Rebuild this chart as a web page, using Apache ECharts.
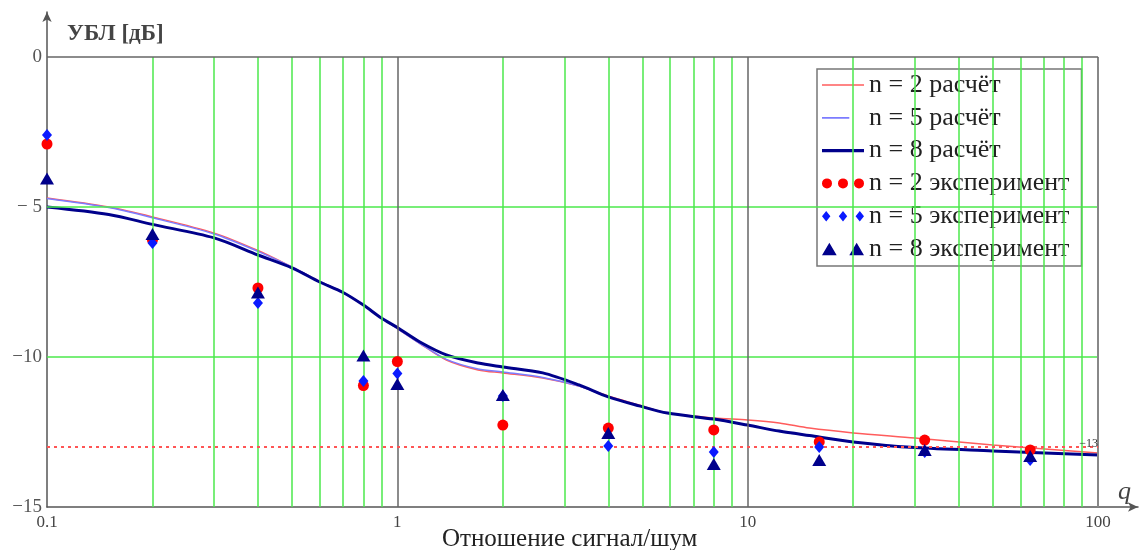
<!DOCTYPE html>
<html>
<head>
<meta charset="utf-8">
<script src="https://cdn.jsdelivr.net/npm/echarts@6/dist/echarts.min.js"></script>
<style>
  html, body { margin: 0; padding: 0; background: #fff; }
  #chart { width: 1144px; height: 550px; }
</style>
</head>
<body>
<div id="chart"></div>
<script>
// расчётные кривые
const qCalc = [0.1, 0.15, 0.2, 0.3, 0.4, 0.5, 0.6, 0.7, 0.8, 0.9, 1, 1.16, 1.38, 1.7, 2, 2.6, 3.3, 4, 4.9, 5.9, 8, 10, 12.3, 15, 20, 30, 50, 100]
const calcN2 = [-4.7, -5.0, -5.33, -5.87, -6.45, -7.0, -7.48, -7.85, -8.27, -8.7, -9.05, -9.55, -10.1, -10.43, -10.53, -10.7, -10.97, -11.3, -11.6, -11.87, -12.03, -12.1, -12.2, -12.37, -12.53, -12.7, -12.93, -13.2]
const calcN5 = [-4.72, -5.02, -5.36, -5.9, -6.48, -7.0, -7.48, -7.85, -8.27, -8.7, -9.05, -9.55, -10.08, -10.4, -10.5, -10.68, -10.97, -11.33, -11.63, -11.87, -12.07, -12.27, -12.48, -12.62, -12.83, -13.0, -13.13, -13.27]
const calcN8 = [-5.0, -5.25, -5.58, -6.03, -6.6, -7.03, -7.5, -7.85, -8.27, -8.7, -9.02, -9.5, -9.93, -10.2, -10.33, -10.53, -10.93, -11.33, -11.63, -11.87, -12.07, -12.27, -12.47, -12.62, -12.83, -13.02, -13.13, -13.27]

// эксперимент
const qExp = [0.1, 0.2, 0.4, 0.8, 1, 2, 4, 8, 16, 32, 64]
const expN2 = [-2.9, -6.1, -7.7, -10.95, -10.15, -12.27, -12.37, -12.43, -12.83, -12.77, -13.1]
const expN5 = [-2.6, -6.2, -8.2, -10.8, -10.55, -11.3, -12.97, -13.17, -13.0, -13.17, -13.43]
const expN8 = [-4.05, -5.9, -7.85, -9.95, -10.9, -11.27, -12.53, -13.57, -13.43, -13.1, -13.3]

const xLabels = [0.1, 1, 10, 100]
const yLabels = [0, -5, -10, -15]
const gridQ = [0.2, 0.3, 0.4, 0.5, 0.6, 0.7, 0.8, 0.9, 2, 3, 4, 5, 6, 7, 8, 9, 20, 30, 40, 50, 60, 70, 80, 90]
const decadeQ = [1, 10]
const gridDb = [-5, -10]
const levelDb = -13

const serif = 'Liberation Serif'
const green = '#4be84b'

const pairs = (xs, ys) => xs.map((x, i) => [x, ys[i]])

const vLine = (q, color, width) => [
  { coord: [q, -15], lineStyle: { color, width, type: 'solid' } },
  { coord: [q, 0] },
]
const hLine = (v, color, width) => [
  { coord: [0.1, v], lineStyle: { color, width, type: 'solid' } },
  { coord: [100, v] },
]

const gridMarks = [
  ...gridQ.map(q => vLine(q, green, 1.5)),
  ...gridDb.map(v => hLine(v, green, 1.5)),
  ...decadeQ.map(q => vLine(q, '#666', 1.5)),
  vLine(100, '#888', 2),
  hLine(0, '#666', 1.5),
  [
    { coord: [0.1, levelDb], lineStyle: { color: '#ff5555', width: 2, type: [3, 4] },
      label: { show: true, position: 'insideEndTop', formatter: '−13', color: '#333', fontSize: 12, fontFamily: serif, distance: [0, -3] } },
    { coord: [100, levelDb] },
  ],
]

const names = ['n = 2 расчёт', 'n = 5 расчёт', 'n = 8 расчёт', 'n = 2 эксперимент', 'n = 5 эксперимент', 'n = 8 эксперимент']

const thinLine = 'path://M0,0H40V1.6H0z'
const shortLine = 'path://M0,0H26V1.6H0z M40,0L40,1.6'
const thickLine = 'path://M0,0H40V3H0z'
const dotsIcon = 'path://M0,5a5,5 0 1,0 10,0a5,5 0 1,0 -10,0z M16,5a5,5 0 1,0 10,0a5,5 0 1,0 -10,0z M32,5a5,5 0 1,0 10,0a5,5 0 1,0 -10,0z'
const diamondsIcon = 'path://M5,0L9,5L5,10L1,5z M21,0L25,5L21,10L17,5z M37,0L41,5L37,10L33,5z'
const trianglesIcon = 'path://M0,12L7,0L14,12z M26,12L33,0L40,12z'

const chart = echarts.init(document.getElementById('chart'))
chart.setOption({
  animation: false,
  title: [
    { text: 'УБЛ [дБ]', left: 62, top: 18, textStyle: { fontFamily: serif, fontSize: 23, fontWeight: 'bold', color: '#444' } },
    { text: 'Отношение сигнал/шум', left: 437, top: 522, textStyle: { fontFamily: serif, fontSize: 25, fontWeight: 'normal', color: '#222' } },
    { text: 'q', left: 1113, top: 474, textStyle: { fontFamily: serif, fontSize: 26, fontStyle: 'italic', fontWeight: 'normal', color: '#444' } },
  ],
  grid: { left: 47, right: 6, top: 12, bottom: 43 },
  legend: {
    orient: 'vertical',
    left: 817,
    top: 69,
    padding: [3, 12, 4, 5],
    itemGap: 6.8,
    itemWidth: 42,
    itemHeight: 14,
    backgroundColor: '#fff',
    borderColor: '#777',
    borderWidth: 1.5,
    textStyle: { fontFamily: serif, fontSize: 26, color: '#222', lineHeight: 25 },
    data: [
      { name: names[0], icon: thinLine },
      { name: names[1], icon: shortLine },
      { name: names[2], icon: thickLine },
      { name: names[3], icon: dotsIcon },
      { name: names[4], icon: diamondsIcon },
      { name: names[5], icon: trianglesIcon },
    ],
  },
  xAxis: {
    type: 'log',
    logBase: 10,
    min: 0.1,
    max: 130,
    axisLine: { onZero: false, symbol: ['none', 'arrow'], symbolSize: [7, 10], lineStyle: { color: '#555', width: 1.5 } },
    axisTick: { show: false },
    splitLine: { show: false },
    axisLabel: {
      fontFamily: serif, fontSize: 17, color: '#444', margin: 7,
      formatter: v => {
        const hit = xLabels.find(t => Math.abs(t - v) < t * 1e-6)
        return hit === undefined ? '' : String(hit)
      },
    },
  },
  yAxis: {
    type: 'value',
    min: -15,
    max: 1.5,
    interval: 5,
    axisLine: { show: true, onZero: false, symbol: ['none', 'arrow'], symbolSize: [7, 10], lineStyle: { color: '#555', width: 1.5 } },
    axisTick: { show: false },
    splitLine: { show: false },
    axisLabel: {
      fontFamily: serif, fontSize: 19, color: '#555', margin: 5,
      formatter: v => {
        if (!yLabels.includes(v)) return ''
        if (v === 0) return '0'
        return v === -5 ? '− 5' : '−' + Math.abs(v)
      },
    },
  },
  series: [
    {
      name: 'grid',
      type: 'line',
      data: [],
      silent: true,
      z: 1,
      markLine: { silent: true, symbol: 'none', label: { show: false }, emphasis: { disabled: true }, data: gridMarks },
    },
    {
      name: names[0], type: 'line', data: pairs(qCalc, calcN2), symbol: 'none', smooth: 0.3, z: 3,
      color: '#ff5c5c', lineStyle: { color: '#ff5c5c', width: 1.5 },
    },
    {
      name: names[1], type: 'line', data: pairs(qCalc, calcN5), symbol: 'none', smooth: 0.3, z: 3,
      color: '#7c7cff', lineStyle: { color: '#7c7cff', width: 1.5 },
    },
    {
      name: names[2], type: 'line', data: pairs(qCalc, calcN8), symbol: 'none', smooth: 0.3, z: 4,
      color: '#00008b', lineStyle: { color: '#00008b', width: 3 },
    },
    {
      name: names[3], type: 'scatter', data: pairs(qExp, expN2), symbol: 'circle', symbolSize: 11, z: 5,
      itemStyle: { color: '#ff0000', opacity: 1 },
    },
    {
      name: names[4], type: 'scatter', data: pairs(qExp, expN5), symbol: 'diamond', symbolSize: [10, 12], z: 6,
      itemStyle: { color: '#0a1aff', opacity: 1 },
    },
    {
      name: names[5], type: 'scatter', data: pairs(qExp, expN8), symbol: 'triangle', symbolSize: [14, 12], z: 7,
      itemStyle: { color: '#00008b', opacity: 1 },
    },
  ],
})
</script>
</body>
</html>
